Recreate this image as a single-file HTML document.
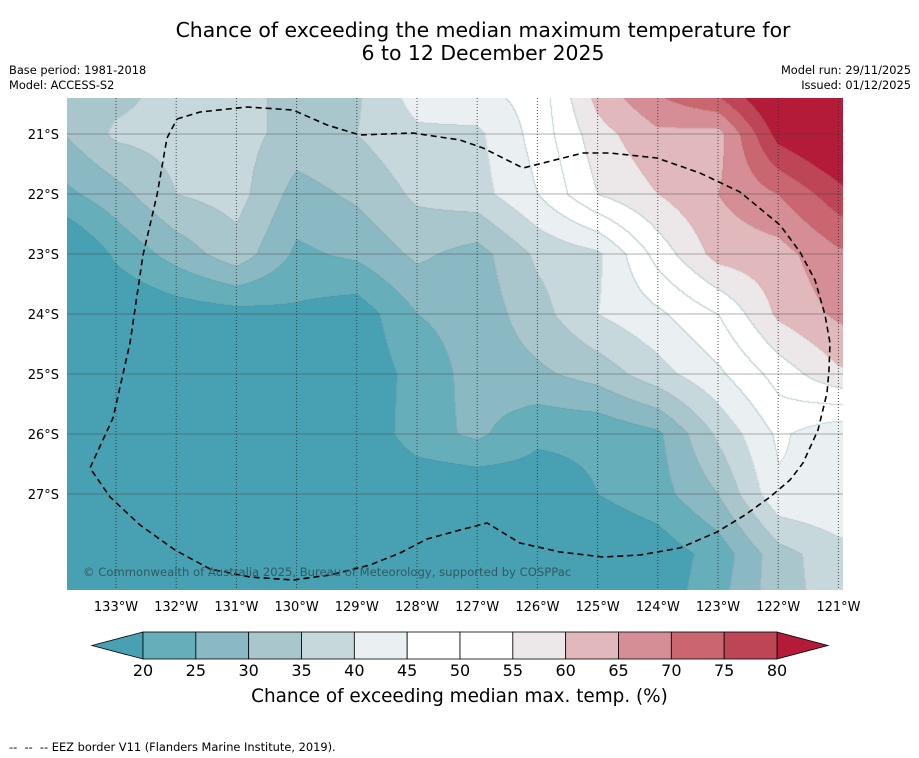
<!DOCTYPE html>
<html><head><meta charset="utf-8">
<style>
html,body{margin:0;padding:0;background:#fff;}
body{width:919px;height:758px;position:relative;overflow:hidden;font-family:"Liberation Sans","DejaVu Sans",sans-serif;color:#000;}
.t{position:absolute;white-space:nowrap;}
</style></head>
<body>
<div class="t" style="left:0;width:966px;top:19px;text-align:center;font-size:20.4px;line-height:23px;font-family:'DejaVu Sans',sans-serif;">Chance of exceeding the median maximum temperature for<br>6 to 12 December 2025</div>
<div class="t" style="left:9px;top:63px;font-size:11.4px;font-family:'DejaVu Sans',sans-serif;">Base period: 1981-2018</div>
<div class="t" style="left:9px;top:78px;font-size:11.4px;font-family:'DejaVu Sans',sans-serif;">Model: ACCESS-S2</div>
<div class="t" style="right:8px;top:63px;font-size:11.4px;text-align:right;font-family:'DejaVu Sans',sans-serif;">Model run: 29/11/2025</div>
<div class="t" style="right:8px;top:78px;font-size:11.4px;text-align:right;font-family:'DejaVu Sans',sans-serif;">Issued: 01/12/2025</div>
<canvas id="map" width="776" height="492" style="position:absolute;left:67px;top:98px;"></canvas>
<svg id="ov" width="919" height="758" style="position:absolute;left:0;top:0;"></svg>
<div class="t" style="left:83px;top:565px;font-size:11.6px;color:#2f5a63;font-family:'DejaVu Sans',sans-serif;">© Commonwealth of Australia 2025, Bureau of Meteorology, supported by COSPPac</div>
<div class="t" style="left:0;width:919px;top:686px;text-align:center;font-size:18.4px;font-family:'DejaVu Sans',sans-serif;">Chance of exceeding median max. temp. (%)</div>
<div class="t" style="left:9px;top:740px;font-size:11.4px;font-family:'DejaVu Sans',sans-serif;">-- &nbsp;-- &nbsp;-- EEZ border V11 (Flanders Marine Institute, 2019).</div>
<script>
// grid data: rows lat -20..-29, cols lon -134..-120
const gridLats=[-20,-21,-22,-23,-24,-25,-26,-27,-28,-29];
const gridLons=[-134,-133,-132,-131,-130,-129,-128,-127,-126,-125,-124,-123,-122,-121,-120];
const row20=[32,32,37,37,33,34,44,46,47,64,73,82,90,95,98];
const row21=[29,36,37,37,33,35,39,39,47,58,64,63,82,88,92];
const row22=[23,28,35,37,28,31,36,38,45,55,60,65,70,78,85];
const row23=[12,21,27,33,24,26,31,28,36,39,52,62,63,69,72];
const row24=[13,15,17,18,19,17,25,27,33,40,44,50,61,66,68];
const row25=[15,15,15,15,15,16,22,27,29,32,38,44,52,59,62];
const row26=[15,15,15,15,15,15,23,26,21,21,24,36,46,41,40];
const row27=[15,15,15,15,15,15,15,15,17,20,23,30,44,45,44];
const row28=[15,15,15,15,15,15,15,15,15,15,17,22,33,38,40];
const row29=[15,15,15,15,15,15,15,15,15,15,17,24,33,37,40];
const levels=[20,25,30,35,40,45,50,55,60,65,70,75,80];
const colors=["#48a1b2","#67aebb","#8ab8c3","#a9c6cc","#c7d8dd","#eaf0f2","#ffffff","#ffffff","#ece8e9","#e1b8bc","#d58e95","#c9666f","#be4556","#b31b39"];
const lonTicks=[-133,-132,-131,-130,-129,-128,-127,-126,-125,-124,-123,-122,-121];
const latTicks=[-21,-22,-23,-24,-25,-26,-27];

const grid=[row20,row21,row22,row23,row24,row25,row26,row27,row28,row29];
const xOf=lon=>116+(lon+133)*60.2;
const yOf=lat=>134+(-21-lat)*60;
const lonOf=x=>-133+(x-116)/60.2;
const latOf=y=>-21-(y-134)/60;
const cbX=v=>143+(v-20)*(634/60);
function hex(c){return [parseInt(c.substr(1,2),16),parseInt(c.substr(3,2),16),parseInt(c.substr(5,2),16)];}
const rgb=colors.map(hex);
function val(lon,lat){
  let c=lon-gridLons[0], r=gridLats[0]-lat;
  c=Math.max(0,Math.min(gridLons.length-1.0001,c)); r=Math.max(0,Math.min(gridLats.length-1.0001,r));
  const c0=Math.floor(c), r0=Math.floor(r), fc=c-c0, fr=r-r0;
  const a=grid[r0][c0],b=grid[r0][c0+1],d=grid[r0+1][c0],e=grid[r0+1][c0+1];
  return (a*(1-fc)+b*fc)*(1-fr)+(d*(1-fc)+e*fc)*fr;
}
function lev(v){let i=0;while(i<levels.length&&v>=levels[i])i++;return i;}
const cv=document.getElementById('map'),ctx=cv.getContext('2d');
const W=776,H=492,img=ctx.createImageData(W,H);
const L=new Uint8Array(W*H);
for(let y=0;y<H;y++)for(let x=0;x<W;x++){L[y*W+x]=lev(val(lonOf(x+67.5),latOf(y+98.5)));}
for(let y=0;y<H;y++)for(let x=0;x<W;x++){
  const i=y*W+x,l=L[i];let c=rgb[l];
  const edge=(x>0&&L[i-1]!==l)||(y>0&&L[i-W]!==l);
  const p=i*4;
  if(edge){const o=L[i-1]!==l&&x>0?L[i-1]:L[i-W];const lo=Math.min(l,o);
    c=lo>=5&&lo<=7?[195,212,217]:[c[0]*0.95,c[1]*0.95,c[2]*0.95];}
  img.data[p]=c[0];img.data[p+1]=c[1];img.data[p+2]=c[2];img.data[p+3]=255;
}
ctx.putImageData(img,0,0);

const NS='http://www.w3.org/2000/svg',ov=document.getElementById('ov');
function mk(tag,attrs,txt){const e=document.createElementNS(NS,tag);for(const k in attrs)e.setAttribute(k,attrs[k]);if(txt!=null)e.textContent=txt;ov.appendChild(e);return e;}
latTicks.forEach(lat=>{
  const g=mk('line',{x1:67,x2:843,y1:yOf(lat),y2:yOf(lat),stroke:'rgba(60,60,60,0.4)','stroke-width':1});
  
  
  const t=mk('text',{x:59,y:yOf(lat)+5,'text-anchor':'end','font-size':13,'font-family':'DejaVu Sans, sans-serif'},(-lat)+'°S');
  
  
});
lonTicks.forEach(lon=>{
  const g=mk('line',{x1:xOf(lon),x2:xOf(lon),y1:98,y2:590,stroke:'rgba(40,40,40,0.8)','stroke-width':1,'stroke-dasharray':'1,2'});
  
  
  const t=mk('text',{x:xOf(lon),y:611,'text-anchor':'middle','font-size':13,'font-family':'DejaVu Sans, sans-serif'},(-lon)+'°W');
  
  
});
const eez=[[177,119],[200,112],[247,107],[293,110],[327,125],[360,135],[413,133],[460,140],[483,148],[523,168],[583,153],[610,153],[657,158],[700,173],[740,192],[780,225],[800,252],[815,280],[825,315],[830,343],[829,370],[827,393],[818,430],[803,463],[790,480],[770,497],[745,515],[717,532],[680,548],[640,555],[603,557],[560,552],[520,543],[487,523],[460,530],[427,539],[400,553],[370,565],[330,575],[293,580],[250,577],[210,569],[175,550],[140,525],[110,497],[90,468],[113,418],[130,343],[143,255],[157,195],[167,138],[177,119]];
const pl=mk('polyline',{points:eez.map(p=>p.join(',')).join(' '),fill:'none',stroke:'#000','stroke-width':1.6,'stroke-dasharray':'6,4'});


const cy0=632,cy1=659;
const lt=mk('polygon',{points:`92,645.5 ${cbX(20)},${cy0} ${cbX(20)},${cy1}`,fill:colors[0],stroke:'#000','stroke-width':0.8});


const rt=mk('polygon',{points:`828,645.5 ${cbX(80)},${cy0} ${cbX(80)},${cy1}`,fill:colors[13],stroke:'#000','stroke-width':0.8});


for(let i=0;i<levels.length-1;i++){
  const r=mk('rect',{x:cbX(levels[i]),y:cy0,width:cbX(levels[i+1])-cbX(levels[i]),height:cy1-cy0,fill:colors[i+1],stroke:'#000','stroke-width':0.8});
  
  
}
levels.forEach(v=>{
  const t=mk('text',{x:cbX(v),y:676,'text-anchor':'middle','font-size':16,'font-family':'DejaVu Sans, sans-serif'},String(v));
  
  
});
</script>
</body></html>
